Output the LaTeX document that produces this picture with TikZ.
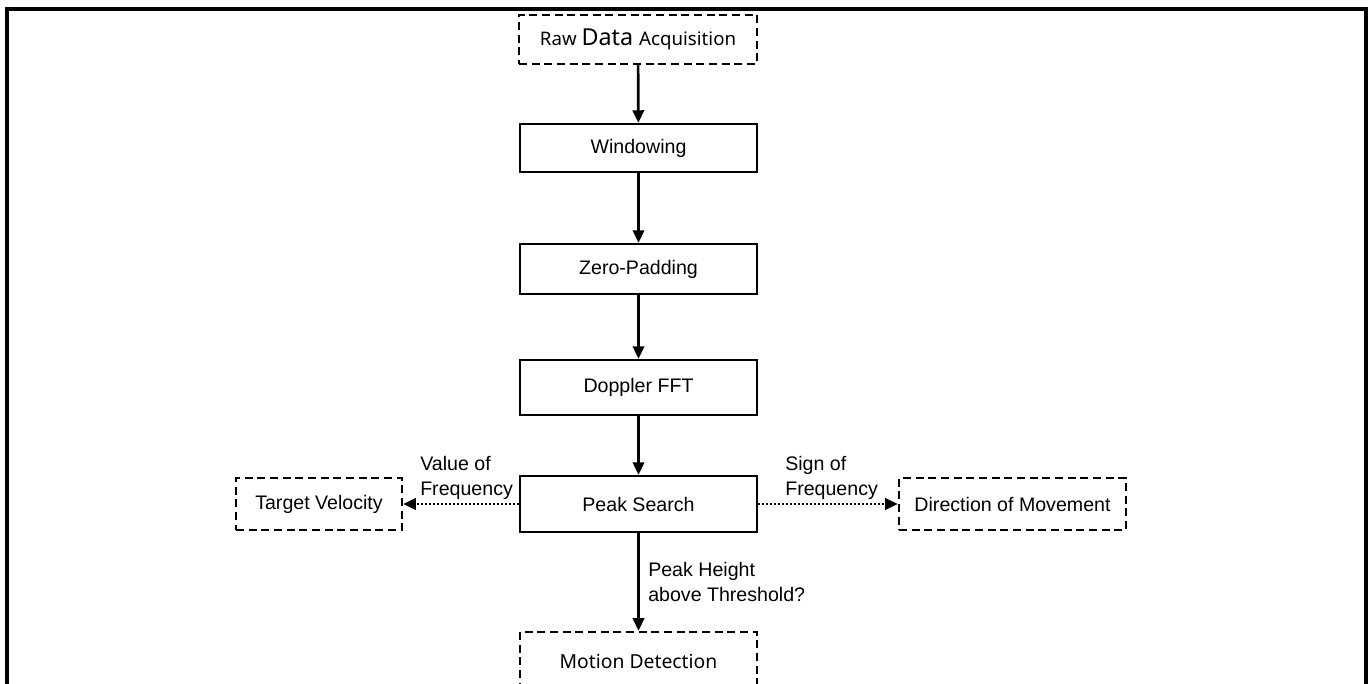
\documentclass[tikz,border=0pt]{standalone}
\usepackage{fontspec}
\setmainfont{Liberation Sans}
\newfontfamily\humfont{Noto Sans}
\usetikzlibrary{arrows.meta}
\begin{document}
\begin{tikzpicture}[x=0.75pt,y=-0.75pt,
  font=\fontsize{14.7}{18.75}\selectfont,
  proc/.style={draw, line width=1.6pt, inner sep=0pt, align=center, minimum width=177.75pt},
  opt/.style={draw, line width=1.7pt, dash pattern=on 6pt off 3.5pt, inner sep=0pt, align=center},
  flow/.style={line width=2pt, -{Triangle[length=9.5pt,width=8.5pt]}},
  side/.style={line width=2pt, dash pattern=on 1.6pt off 1.4pt, -{Triangle[length=9.5pt,width=8.5pt]}},
  lbl/.style={inner sep=0pt, anchor=west, align=left}]
\clip (0,0) rectangle (1370,684);
\fill[white] (0,0) rectangle (1370,684);
% outer frame, open at the bottom
\draw[line width=2.4pt] (7,700) -- (7,9) -- (1366,9) -- (1366,700);

% processing chain
\node[opt, minimum width=178.5pt, minimum height=36.75pt] (raw) at (638,39.5)
  {\humfont\fontsize{14}{16}\selectfont Raw \fontsize{17.5}{20}\selectfont Data \fontsize{14}{16}\selectfont Acquisition};
\node[proc, minimum height=36pt] (win) at (638.5,148) {Windowing};
\node[proc, minimum height=37.5pt] (zp) at (638.5,269) {Zero-Padding};
\node[proc, minimum height=41.25pt] (dfft) at (638.5,387.5) {Doppler FFT};
\node[proc, minimum height=42pt] (peak) at (638.5,504) {Peak Search};

% results
\node[opt, minimum width=124.5pt, minimum height=39pt] (tv) at (319,504) {Target Velocity};
\node[opt, minimum width=170.25pt, minimum height=39pt] (dom) at (1012.5,504) {Direction of Movement};
\node[opt, minimum width=177.75pt, minimum height=43.5pt] (md) at (638.5,661)
  {\humfont\fontsize{14.5}{16}\selectfont Motion Detection};

% connectors
\draw[flow] (raw) -- (win);
\draw[flow] (win) -- (zp);
\draw[flow] (zp) -- (dfft);
\draw[flow] (dfft) -- (peak);
\draw[flow] (peak) -- (md);
\draw[side] (peak) -- (tv);
\draw[side] (peak) -- (dom);

% connector labels
\node[lbl] (lv) at (420,478) {Value of\\Frequency};
\node[lbl] (ls) at (785,478) {Sign of\\Frequency};
\node[lbl] (lp) at (648,582) {Peak Height\\above Threshold?};
\end{tikzpicture}
\end{document}
